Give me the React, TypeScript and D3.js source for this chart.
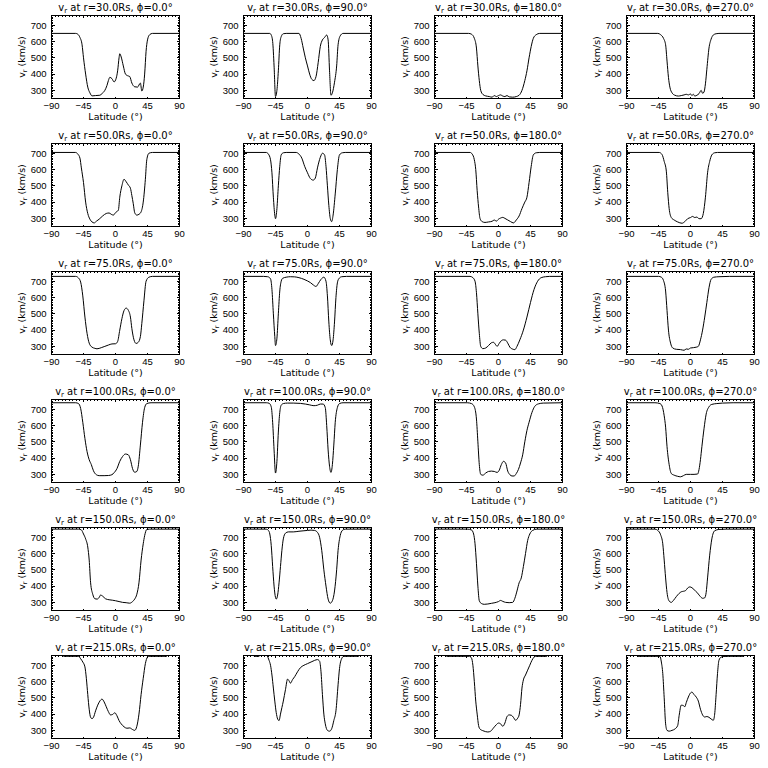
import React from 'react';
import * as d3 from 'd3';

// IDL-style 6x4 grid of solar wind speed vs latitude cuts

type Pt = [number, number];

const radii = [30, 50, 75, 100, 150, 215];
const phis = [0, 90, 180, 270];
const xTicks = [-90, -45, 0, 45, 90];
const yTicks = [300, 400, 500, 600, 700];
const xDomain: [number, number] = [-90, 90];
const yDomain: [number, number] = [250, 760];

// r = 30 Rs
const r30p0: Pt[] = [[-90,650],[-56,650],[-53,645],[-50,625],[-47,580],[-45,500],[-42,400],[-39,320],[-36,285],[-33,266],[-28,268],[-22,270],[-19,280],[-15,300],[-12,330],[-10,360],[-8,380],[-5,372],[-2,352],[1,375],[3,420],[5,500],[6,525],[8,505],[11,450],[14,400],[17,390],[20,385],[23,345],[27,322],[31,320],[35,345],[37,296],[39,320],[41,400],[43,540],[45,610],[48,642],[52,650],[90,650]];
const r30p90: Pt[] = [[-90,650],[-53,650],[-51,640],[-49,600],[-47,450],[-45,262],[-43,300],[-41,420],[-39,580],[-37,630],[-34,648],[-30,650],[-12,650],[-9,620],[-6,560],[-3,500],[0,450],[3,400],[6,368],[9,360],[12,385],[15,470],[18,570],[21,610],[24,625],[27,640],[29,610],[31,420],[33,270],[35,285],[38,350],[41,450],[43,580],[46,635],[50,650],[90,650]];
const r30p180: Pt[] = [[-90,650],[-42,650],[-38,645],[-34,620],[-31,560],[-29,450],[-27,360],[-25,300],[-22,275],[-18,266],[-13,262],[-9,258],[-6,268],[-3,262],[0,268],[3,272],[6,265],[9,262],[12,268],[15,260],[20,258],[25,262],[29,270],[33,300],[37,360],[40,420],[43,500],[46,570],[49,620],[53,642],[58,650],[90,650]];
const r30p270: Pt[] = [[-90,650],[-46,650],[-42,642],[-38,620],[-35,580],[-33,480],[-31,380],[-29,320],[-26,285],[-22,270],[-17,265],[-13,268],[-9,272],[-6,276],[-3,272],[0,278],[2,268],[4,276],[6,265],[9,270],[12,280],[15,300],[17,282],[19,290],[21,340],[23,430],[26,560],[29,615],[32,640],[36,648],[40,650],[90,650]];

// r = 50 Rs
const r50p0: Pt[] = [[-90,705],[-56,705],[-53,695],[-50,670],[-48,610],[-45,520],[-42,400],[-39,330],[-36,295],[-33,278],[-30,272],[-27,282],[-23,295],[-18,315],[-13,330],[-9,333],[-6,325],[-3,320],[0,335],[2,342],[4,350],[6,430],[9,500],[12,540],[15,525],[18,505],[21,485],[23,440],[25,390],[27,335],[30,320],[33,325],[36,340],[39,400],[42,540],[44,660],[47,700],[52,705],[90,705]];
const r50p90: Pt[] = [[-90,705],[-58,705],[-55,695],[-52,660],[-50,580],[-48,430],[-46,320],[-45,298],[-43,360],[-41,500],[-39,620],[-37,690],[-34,703],[-30,705],[-16,705],[-12,695],[-8,670],[-4,620],[0,580],[4,545],[8,535],[11,548],[14,610],[18,675],[21,700],[24,690],[26,620],[28,500],[30,380],[32,300],[34,280],[36,320],[39,450],[42,600],[45,690],[49,703],[53,705],[90,705]];
const r50p180: Pt[] = [[-90,705],[-40,705],[-37,695],[-34,660],[-32,600],[-30,470],[-28,370],[-26,300],[-23,280],[-19,275],[-14,278],[-9,282],[-6,290],[-3,283],[0,295],[3,302],[6,306],[9,300],[13,290],[17,280],[21,272],[25,290],[29,315],[33,360],[37,400],[40,430],[43,520],[46,620],[49,690],[53,703],[58,705],[90,705]];
const r50p270: Pt[] = [[-90,705],[-44,705],[-40,692],[-37,650],[-34,590],[-32,460],[-30,360],[-27,305],[-23,290],[-18,278],[-12,270],[-8,280],[-4,298],[0,305],[3,312],[6,305],[9,308],[12,298],[15,298],[18,330],[21,430],[24,580],[27,650],[30,690],[34,703],[38,705],[90,705]];

// r = 75 Rs
const r75p0: Pt[] = [[-90,730],[-56,730],[-52,720],[-49,695],[-46,610],[-43,480],[-40,380],[-37,320],[-33,295],[-29,288],[-26,285],[-20,292],[-15,300],[-10,308],[-5,315],[0,316],[3,330],[6,400],[9,470],[12,520],[15,535],[18,522],[21,480],[23,410],[26,340],[29,318],[32,325],[35,360],[37,440],[40,580],[43,700],[47,725],[52,730],[90,730]];
const r75p90: Pt[] = [[-90,730],[-62,730],[-56,728],[-52,715],[-50,650],[-48,500],[-46,360],[-45,305],[-43,350],[-41,500],[-39,640],[-37,700],[-35,718],[-30,725],[-24,728],[-18,727],[-12,722],[-5,712],[0,702],[4,692],[8,678],[12,668],[15,685],[19,712],[23,725],[26,700],[28,610],[30,450],[32,340],[34,305],[36,340],[38,450],[40,600],[42,690],[44,715],[48,728],[55,730],[90,730]];
const r75p180: Pt[] = [[-90,730],[-40,730],[-36,722],[-33,700],[-31,630],[-29,500],[-27,380],[-25,300],[-22,286],[-18,290],[-14,305],[-10,322],[-7,325],[-4,310],[-2,300],[1,318],[4,335],[7,340],[10,338],[13,320],[16,295],[20,283],[23,280],[26,300],[30,340],[35,400],[40,480],[45,570],[50,650],[55,700],[60,722],[66,728],[72,730],[90,730]];
const r75p270: Pt[] = [[-90,730],[-45,730],[-41,725],[-38,705],[-35,640],[-33,520],[-31,400],[-28,320],[-25,290],[-20,282],[-14,280],[-9,276],[-6,284],[-3,282],[0,290],[4,292],[8,295],[11,300],[14,340],[17,400],[20,480],[23,570],[26,660],[29,712],[33,725],[40,728],[55,730],[90,730]];

// r = 100 Rs
const r100p0: Pt[] = [[-90,740],[-56,740],[-52,735],[-49,705],[-46,620],[-43,520],[-40,440],[-37,390],[-34,360],[-31,322],[-27,298],[-23,292],[-16,292],[-10,293],[-5,298],[-2,310],[2,335],[6,380],[10,410],[14,425],[18,420],[21,390],[24,335],[27,313],[30,318],[32,350],[35,480],[38,620],[41,710],[44,735],[50,740],[90,740]];
const r100p90: Pt[] = [[-90,740],[-58,740],[-54,737],[-51,715],[-49,620],[-47,450],[-45,308],[-43,380],[-41,560],[-39,680],[-37,725],[-34,735],[-28,738],[-20,738],[-10,736],[-3,732],[3,727],[9,722],[14,725],[18,732],[22,732],[25,710],[27,600],[29,450],[31,350],[33,312],[35,360],[37,480],[39,620],[42,710],[45,735],[50,740],[90,740]];
const r100p180: Pt[] = [[-90,740],[-44,740],[-38,735],[-34,715],[-31,640],[-29,500],[-27,360],[-25,300],[-22,295],[-18,308],[-14,318],[-10,320],[-6,318],[-2,312],[1,325],[4,360],[7,380],[10,370],[13,320],[16,298],[19,290],[22,290],[25,305],[28,330],[31,370],[34,420],[37,500],[40,570],[43,620],[47,680],[51,718],[56,733],[63,738],[90,740]];
const r100p270: Pt[] = [[-90,740],[-50,740],[-43,735],[-40,720],[-37,660],[-35,590],[-33,470],[-30,360],[-27,305],[-23,295],[-18,288],[-14,285],[-10,292],[-6,300],[0,300],[5,300],[10,302],[12,330],[14,390],[16,470],[19,580],[22,670],[26,715],[30,730],[37,735],[45,738],[60,740],[90,740]];

// r = 150 Rs
const r150p0: Pt[] = [[-90,750],[-52,750],[-48,745],[-45,720],[-42,690],[-39,640],[-37,560],[-35,420],[-32,350],[-29,322],[-26,320],[-23,330],[-21,345],[-18,338],[-14,322],[-9,316],[-4,313],[0,310],[5,305],[10,300],[15,298],[20,295],[24,305],[27,320],[30,350],[33,420],[36,560],[39,660],[41,710],[44,748],[48,750],[90,750]];
const r150p90: Pt[] = [[-90,750],[-58,750],[-55,742],[-53,720],[-51,650],[-49,520],[-47,400],[-45,330],[-44,320],[-42,345],[-40,420],[-38,520],[-36,620],[-34,690],[-31,725],[-27,733],[-20,733],[-12,737],[-5,740],[0,742],[5,744],[10,742],[14,730],[17,700],[20,620],[23,500],[26,400],[29,320],[32,295],[35,310],[38,370],[41,500],[43,620],[46,710],[49,742],[53,750],[90,750]];
const r150p180: Pt[] = [[-90,750],[-44,750],[-38,745],[-35,720],[-33,660],[-31,540],[-29,400],[-27,310],[-24,293],[-20,288],[-15,290],[-10,294],[-5,298],[0,305],[3,312],[6,306],[10,300],[15,298],[20,300],[23,325],[26,370],[29,420],[32,450],[35,520],[38,600],[41,680],[44,720],[48,742],[54,750],[90,750]];
const r150p270: Pt[] = [[-90,750],[-50,750],[-46,742],[-42,715],[-39,660],[-37,560],[-35,450],[-33,360],[-30,308],[-27,300],[-24,312],[-20,335],[-16,355],[-13,365],[-10,368],[-7,372],[-4,388],[-1,395],[2,390],[5,378],[9,362],[13,340],[17,325],[20,328],[22,360],[24,450],[27,590],[30,690],[34,740],[40,748],[50,750],[90,750]];

// r = 215 Rs (values above the range are clipped at the top edge)
const r215p0: Pt[] = [[-90,775],[-74,775],[-73,755],[-52,755],[-49,740],[-46,720],[-43,690],[-41,620],[-39,520],[-37,430],[-35,380],[-33,372],[-31,380],[-28,420],[-25,455],[-22,480],[-19,492],[-16,475],[-13,445],[-10,415],[-7,395],[-4,398],[-1,408],[2,390],[5,360],[8,340],[12,322],[16,313],[20,315],[24,305],[27,300],[30,325],[33,400],[36,520],[39,620],[42,710],[45,750],[47,755],[72,755],[73,775],[90,775]];
const r215p90: Pt[] = [[-90,775],[-76,775],[-75,755],[-68,755],[-67,775],[-60,775],[-57,760],[-54,730],[-52,700],[-50,640],[-48,560],[-46,480],[-44,410],[-42,370],[-40,360],[-38,400],[-36,440],[-34,480],[-31,550],[-28,615],[-26,605],[-24,590],[-21,612],[-18,630],[-14,660],[-10,685],[-5,700],[0,710],[5,720],[10,730],[14,735],[17,725],[19,660],[21,520],[23,400],[25,340],[28,300],[31,295],[34,310],[37,360],[40,420],[43,580],[45,680],[48,740],[51,755],[72,755],[73,775],[90,775]];
const r215p180: Pt[] = [[-90,775],[-74,775],[-73,755],[-41,755],[-38,745],[-36,700],[-34,600],[-32,480],[-30,400],[-28,330],[-26,308],[-22,298],[-18,292],[-15,290],[-11,295],[-7,315],[-3,335],[0,345],[3,340],[6,325],[9,345],[12,385],[15,395],[18,393],[21,380],[24,362],[27,375],[29,395],[31,460],[33,560],[35,610],[38,640],[41,670],[44,700],[47,730],[50,750],[52,755],[68,755],[69,775],[90,775]];
const r215p270: Pt[] = [[-90,775],[-75,775],[-74,755],[-43,755],[-41,720],[-39,650],[-37,500],[-35,340],[-33,300],[-30,295],[-26,300],[-22,308],[-18,330],[-16,390],[-13,455],[-10,452],[-8,445],[-6,470],[-3,505],[0,530],[2,535],[5,520],[8,505],[11,480],[14,430],[17,395],[20,382],[23,385],[26,380],[29,370],[32,362],[34,400],[36,520],[38,650],[40,730],[43,750],[47,754],[54,755],[75,755],[76,775],[90,775]];

const grid: Pt[][][] = [
  [r30p0, r30p90, r30p180, r30p270],
  [r50p0, r50p90, r50p180, r50p270],
  [r75p0, r75p90, r75p180, r75p270],
  [r100p0, r100p90, r100p180, r100p270],
  [r150p0, r150p90, r150p180, r150p270],
  [r215p0, r215p90, r215p180, r215p270],
];

const PW = 128;
const PH = 83;
const TEXT_FONT = '"DejaVu Sans", sans-serif';
const NUM_FONT = '"Liberation Sans", Arial, sans-serif';

function Panel({ data, r, phi, left, top }: { data: Pt[]; r: number; phi: number; left: number; top: number }) {
  const x = d3.scaleLinear().domain(xDomain).range([0, PW]);
  const y = d3.scaleLinear().domain(yDomain).range([PH, 0]);
  const line = d3.line<Pt>().x((d) => x(d[0])).y((d) => y(d[1])).curve(d3.curveMonotoneX);
  const clipId = `clip-${r}-${phi}`;
  const xMinor = d3.range(xDomain[0], xDomain[1] + 0.1, 5);
  const yMinor = d3.range(yDomain[0], yDomain[1] + 0.1, 10);

  return (
    <g transform={`translate(${left},${top})`}>
      <defs>
        <clipPath id={clipId}>
          <rect x={0} y={0} width={PW} height={PH} />
        </clipPath>
      </defs>
      <path d={line(data) || ''} fill="none" stroke="#000" strokeWidth={1} clipPath={`url(#${clipId})`} />
      <g stroke="#000" strokeWidth={1} shapeRendering="crispEdges">
        <rect x={0} y={0} width={PW} height={PH} fill="none" />
        {xMinor.map((v) => (
          <g key={`xm${v}`}>
            <line x1={x(v)} x2={x(v)} y1={PH} y2={PH - 1} />
            <line x1={x(v)} x2={x(v)} y1={0} y2={1} />
          </g>
        ))}
        {xTicks.map((v) => (
          <g key={`xt${v}`}>
            <line x1={x(v)} x2={x(v)} y1={PH} y2={PH - 2} />
            <line x1={x(v)} x2={x(v)} y1={0} y2={2} />
          </g>
        ))}
        {yMinor.map((v) => (
          <g key={`ym${v}`}>
            <line x1={0} x2={1.5} y1={y(v)} y2={y(v)} />
            <line x1={PW} x2={PW - 1.5} y1={y(v)} y2={y(v)} />
          </g>
        ))}
        {yTicks.map((v) => (
          <g key={`yt${v}`}>
            <line x1={0} x2={3} y1={y(v)} y2={y(v)} />
            <line x1={PW} x2={PW - 3} y1={y(v)} y2={y(v)} />
          </g>
        ))}
      </g>
      {xTicks.map((v) => (
        <text key={`xl${v}`} x={x(v)} y={PH + 10} textAnchor="middle" fontFamily={NUM_FONT} fontSize={9.5}>
          {v < 0 ? `\u2212${Math.abs(v)}` : v}
        </text>
      ))}
      {yTicks.map((v) => (
        <text key={`yl${v}`} x={-5} y={y(v)} dy="0.35em" textAnchor="end" fontFamily={NUM_FONT} fontSize={9.5}>
          {v}
        </text>
      ))}
      <text x={PW / 2} y={PH + 21} textAnchor="middle" fontFamily={TEXT_FONT} fontSize={9.5}>
        Latitude (°)
      </text>
      <text transform={`translate(-27,${PH / 2}) rotate(-90)`} textAnchor="middle" fontFamily={TEXT_FONT} fontSize={9.5}>
        v<tspan fontSize={6.5} dy={2}>r</tspan>
        <tspan dy={-2}> (km/s)</tspan>
      </text>
      <text x={PW / 2} y={-5} textAnchor="middle" fontFamily={TEXT_FONT} fontSize={10}>
        v<tspan fontSize={7} dy={2}>r</tspan>
        <tspan dy={-2}>{` at r=${r.toFixed(1)}Rs, \u03d5=${phi.toFixed(1)}°`}</tspan>
      </text>
    </g>
  );
}

export default function App() {
  return (
    <svg width={768} height={768} style={{ position: 'absolute', left: 0, top: 0, background: '#fff' }}>
      <rect width={768} height={768} fill="#fff" />
      {grid.map((row, ri) =>
        row.map((data, ci) => (
          <Panel
            key={`${ri}-${ci}`}
            data={data}
            r={radii[ri]}
            phi={phis[ci]}
            left={Math.round(50.7 + ci * 191.8) + 0.5}
            top={Math.round(14.7 + ri * 128) + 0.5}
          />
        ))
      )}
    </svg>
  );
}
